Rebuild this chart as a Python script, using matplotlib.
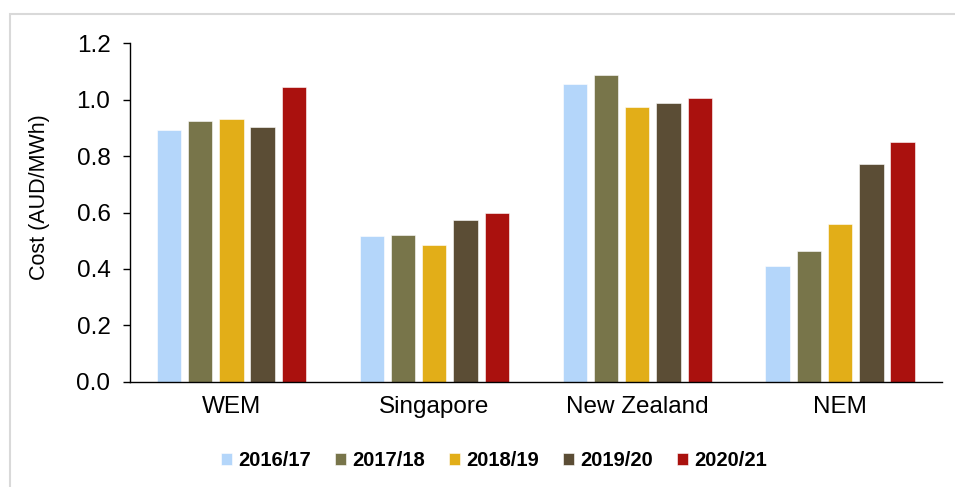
import numpy as np
import matplotlib
matplotlib.use("Agg")
import matplotlib.pyplot as plt
from matplotlib.patches import Rectangle

plt.rcParams['font.family'] = ['Liberation Sans', 'DejaVu Sans']

markets = ["WEM", "Singapore", "New Zealand", "NEM"]
years = ["2016/17", "2017/18", "2018/19", "2019/20", "2020/21"]
colours = ["#B4D6FA", "#78754A", "#E2AE18", "#5B4D35", "#AA110E"]

# cost per year, one list per market order above
cost_1617 = [0.892, 0.517, 1.056, 0.410]
cost_1718 = [0.924, 0.520, 1.087, 0.463]
cost_1819 = [0.932, 0.485, 0.976, 0.559]
cost_1920 = [0.903, 0.574, 0.988, 0.772]
cost_2021 = [1.044, 0.597, 1.005, 0.850]
series = [cost_1617, cost_1718, cost_1819, cost_1920, cost_2021]

fig = plt.figure(figsize=(9.55, 4.87), dpi=100)
ax = fig.add_axes([0.136, 0.216, 0.850, 0.695])

x = np.arange(len(markets))
slot = 0.154
width = 0.12
for i, (vals, lab, col) in enumerate(zip(series, years, colours)):
    ax.bar(x + (i - 2) * slot, vals, width, color=col, label=lab,
           edgecolor="white", linewidth=0.4)

ax.set_xlim(-0.5, len(markets) - 0.5)
ax.set_ylim(0, 1.2)
ax.set_yticks(np.arange(0, 1.21, 0.2))
ax.set_yticklabels([f"{v:.1f}" for v in np.arange(0, 1.21, 0.2)])
ax.set_xticks(x)
ax.set_xticklabels(markets)
ax.tick_params(axis="x", length=0, labelsize=17.5, pad=10)
ax.tick_params(axis="y", length=5, width=1, labelsize=17.5, pad=9)
ax.spines["top"].set_visible(False)
ax.spines["right"].set_visible(False)
ax.spines["left"].set_linewidth(1)
ax.spines["bottom"].set_linewidth(1)
ax.set_ylabel("Cost (AUD/MWh)", fontsize=15.5)
ax.yaxis.set_label_coords(-0.099, 0.547)

fig.legend(loc="center", bbox_to_anchor=(0.517, 0.055), ncol=5, frameon=False,
           prop={"weight": "bold", "size": 14.5}, handlelength=0.55,
           handleheight=0.55, handletextpad=0.3, columnspacing=1.2)

# light grey frame around the chart
fig.patches.append(Rectangle((10 / 955, -0.1), 1.2, 1 - 14 / 487 + 0.1,
                             transform=fig.transFigure, fill=False,
                             edgecolor="#d9d9d9", linewidth=1.5))

fig.savefig("out.png", dpi=100)
